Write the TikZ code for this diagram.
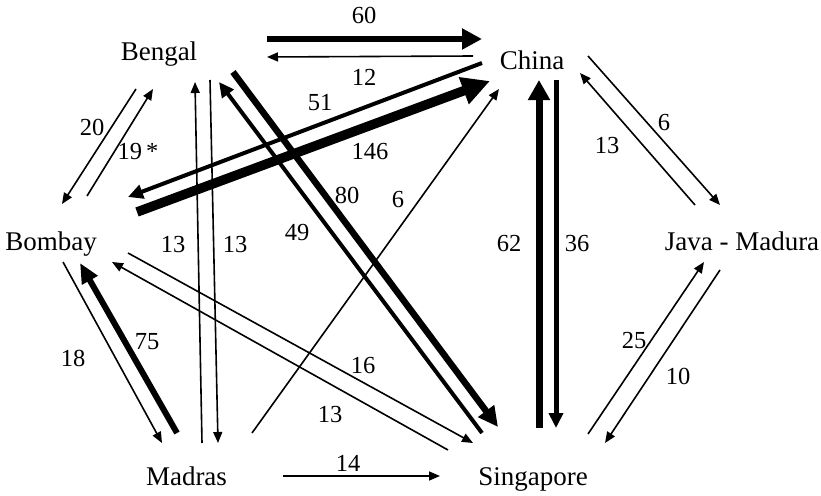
\documentclass[tikz,border=0pt]{standalone}
\usepackage{fontspec}
\setmainfont{Liberation Serif}
\usetikzlibrary{arrows.meta}
\begin{document}
\begin{tikzpicture}[x=1pt,y=-1pt,
  place/.style={font=\fontsize{27}{27}\selectfont, inner sep=0pt, anchor=base},
  num/.style={font=\fontsize{24.5}{25}\selectfont, inner sep=0pt},
  fthin/.style={line width=1.6pt, -{Triangle[length=11pt,width=9pt]}},
  fmed/.style={line width=4pt, -{Triangle[length=15pt,width=14pt]}},
  fmid/.style={line width=5pt, -{Triangle[length=15pt,width=14pt]}},
  fthick/.style={line width=6.5pt, -{Triangle[length=20pt,width=19pt]}},
  fbold/.style={line width=7pt, -{Triangle[length=20pt,width=21pt]}},
  fheavy/.style={line width=9.5pt, -{Triangle[length=28pt,width=27pt]}}]
\path[use as bounding box, fill=white] (0,0) rectangle (821,495);

% places
\node[place] (bengal) at (159,60) {Bengal};
\node[place] (china) at (532,69) {China};
\node[place] (bombay) at (51,250) {Bombay};
\node[place] (java) at (742,250) {Java - Madura};
\node[place] (madras) at (186.5,485) {Madras};
\node[place] (sing) at (533,485) {Singapore};

% end points
\coordinate (a1) at (267,39);   \coordinate (b1) at (482,39);
\coordinate (a2) at (473,56);   \coordinate (b2) at (267,57);
\coordinate (a3) at (482,63);   \coordinate (b3) at (128,197);
\coordinate (a4) at (137,212);  \coordinate (b4) at (490,81);
\coordinate (a5) at (233,72);   \coordinate (b5) at (498,427);
\coordinate (a6) at (482,433);  \coordinate (b6) at (219,82);
\coordinate (a7) at (202,443);  \coordinate (b7) at (195,82);
\coordinate (a8) at (210,80);   \coordinate (b8) at (218,443);
\coordinate (a9) at (136,89);   \coordinate (b9) at (62,204);
\coordinate (a10) at (87,196);  \coordinate (b10) at (153,89);
\coordinate (a11) at (63,262);  \coordinate (b11) at (162,443);
\coordinate (a12) at (177,433); \coordinate (b12) at (80,263);
\coordinate (a13) at (128,253); \coordinate (b13) at (473,443);
\coordinate (a14) at (448,450); \coordinate (b14) at (112,262);
\coordinate (a15) at (252,433); \coordinate (b15) at (499,89);
\coordinate (a16) at (283,476); \coordinate (b16) at (440,476);
\coordinate (a17) at (539,428); \coordinate (b17) at (539,80);
\coordinate (a18) at (556,80);  \coordinate (b18) at (556,428);
\coordinate (a19) at (588,56);  \coordinate (b19) at (720,205);
\coordinate (a20) at (695,205); \coordinate (b20) at (580,73);
\coordinate (a21) at (588,434); \coordinate (b21) at (704,262);
\coordinate (a22) at (720,270); \coordinate (b22) at (605,443);

% flows
\draw[line width=6.5pt, -{Triangle[length=20pt,width=20pt]}] (a1) -- (b1);
\draw[fthin] (a2) -- (b2);
\draw[fmed] (a3) -- (b3);
\draw[fheavy] (a4) -- (b4);
\draw[fthick] (a5) -- (b5);
\draw[fmed] (a6) -- (b6);
\draw[fthin] (a7) -- (b7);
\draw[fthin] (a8) -- (b8);
\draw[fthin] (a9) -- (b9);
\draw[fthin] (a10) -- (b10);
\draw[fthin] (a11) -- (b11);
\draw[line width=6pt, -{Triangle[length=20pt,width=17pt]}] (a12) -- (b12);
\draw[fthin] (a13) -- (b13);
\draw[fthin] (a14) -- (b14);
\draw[fthin] (a15) -- (b15);
\draw[fthin] (a16) -- (b16);
\draw[fbold] (a17) -- (b17);
\draw[fmid] (a18) -- (b18);
\draw[fthin] (a19) -- (b19);
\draw[fthin] (a20) -- (b20);
\draw[fthin] (a21) -- (b21);
\draw[fthin] (a22) -- (b22);

% labels
\node[num] (l1) at (364,15) {60};
\node[num] (l2) at (364,77) {12};
\node[num] (l3) at (320,103) {51};
\node[num] (l4) at (370,152) {146};
\node[num] (l5) at (347,195) {80};
\node[num] (l6) at (297,233) {49};
\node[num] (l7) at (173,245) {13};
\node[num] (l8) at (235,245) {13};
\node[num] (l9) at (92,127) {20};
\node[num] (l10) at (138,152) {19\,*};
\node[num] (l11) at (73,358) {18};
\node[num] (l12) at (147,342) {75};
\node[num] (l13) at (363,366) {16};
\node[num] (l14) at (330,415) {13};
\node[num] (l15) at (398,200) {6};
\node[num] (l16) at (348,463) {14};
\node[num] (l17) at (509,244) {62};
\node[num] (l18) at (577,244) {36};
\node[num] (l19) at (664,123) {6};
\node[num] (l20) at (607,146) {13};
\node[num] (l21) at (634,341) {25};
\node[num] (l22) at (678,376) {10};
\end{tikzpicture}
\end{document}
